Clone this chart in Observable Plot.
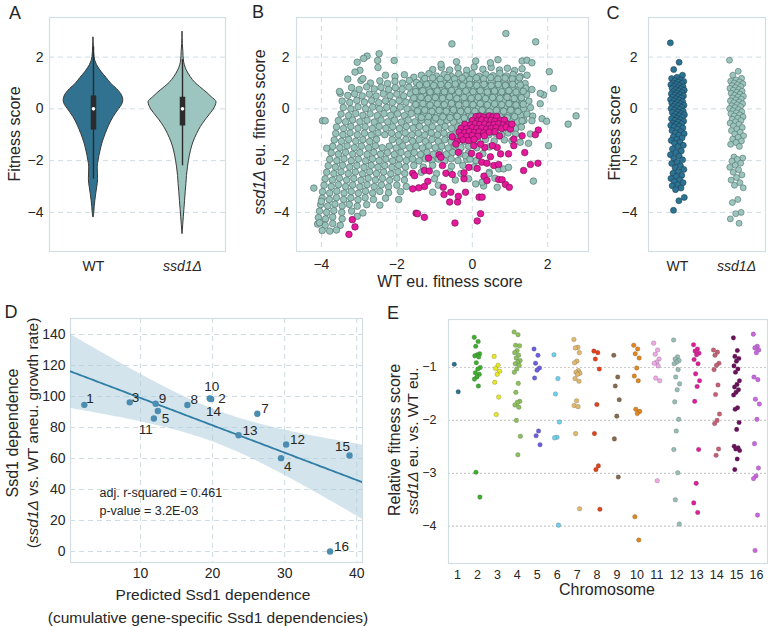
<!DOCTYPE html>
<html><head><meta charset="utf-8">
<script src="https://cdn.jsdelivr.net/npm/d3@7"></script>
<script src="https://cdn.jsdelivr.net/npm/@observablehq/plot@0.6"></script>
<style>
body{margin:0;background:#fff;font-family:"Liberation Sans",Arial,sans-serif;}
#fig{position:relative;width:768px;height:627px;overflow:hidden;background:#fff;}
.lbl{position:absolute;color:#262626;white-space:nowrap;line-height:1;}
</style></head><body><div id="fig"></div>
<script>
// ---------- Panel A: violin profiles (relative density) ----------
const wtLevels = [2.75, 2.4, 2.0, 1.7, 1.42, 1.2, 0.97, 0.75, 0.58, 0.32, 0.15, 0, -0.32, -0.65, -0.97, -1.3, -1.61, -2.0, -2.26, -2.5, -2.71, -2.9, -3.03, -3.3, -3.55, -3.8, -4.06, -4.2];
const wtDensity = [0, 0.01, 0.03, 0.1, 0.24, 0.38, 0.52, 0.7, 0.81, 0.876, 0.84, 0.76, 0.59, 0.46, 0.36, 0.27, 0.21, 0.15, 0.125, 0.13, 0.135, 0.125, 0.11, 0.08, 0.055, 0.035, 0.02, 0];
const ssdLevels = [2.97, 2.5, 2.2, 1.87, 1.5, 1.23, 1.0, 0.84, 0.6, 0.45, 0.26, 0.1, -0.06, -0.25, -0.45, -0.7, -0.97, -1.3, -1.61, -2.0, -2.26, -2.6, -2.9, -3.2, -3.55, -3.9, -4.19, -4.5, -4.84];
const ssdDensity = [0, 0.01, 0.025, 0.04, 0.12, 0.24, 0.38, 0.52, 0.74, 0.86, 1.0, 0.97, 0.9, 0.79, 0.67, 0.54, 0.43, 0.32, 0.25, 0.19, 0.16, 0.13, 0.115, 0.095, 0.076, 0.055, 0.038, 0.02, 0];
// box summary: [whisker low, q1, median, q3, whisker high]
const wtBox = [-2.71, -0.82, 0.0, 0.5, 2.4];
const ssdBox = [-2.2, -0.66, 0.0, 0.45, 1.9];
const groupNames = ["WT", "ssd1Δ"];

// ---------- Panel B: euploid fitness scores (WT x, ssd1Δ y) ----------
const grayPts = [
[-1.05,1.52],[-0.82,1.6],[-0.6,1.5],[-0.38,1.58],[-0.15,1.49],[0.05,1.62],[0.28,1.53],[0.5,1.6],[0.72,1.5],[0.93,1.57],[1.12,1.48],[1.32,1.55],
[-2.3,1.3],[-2.05,1.25],[-1.8,1.32],[-1.55,1.22],[-1.35,1.3],[-1.15,1.36],[-0.95,1.27],[-0.75,1.33],[-0.55,1.25],[-0.36,1.35],[-0.18,1.28],[0.0,1.36],[0.18,1.26],[0.36,1.33],[0.55,1.28],[0.73,1.37],[0.9,1.27],[1.08,1.33],[1.27,1.25],[1.45,1.3],
[-2.95,1.1],[-2.7,1.0],[-2.45,1.08],[-2.25,0.98],[-2.05,1.06],[-1.85,1.0],[-1.67,1.1],[-1.48,1.02],[-1.3,1.08],[-1.12,0.99],[-0.94,1.06],[-0.76,1.0],[-0.58,1.1],[-0.4,1.02],[-0.22,1.07],[-0.04,0.98],[0.14,1.08],[0.32,1.0],[0.5,1.06],[0.68,0.99],[0.86,1.08],[1.04,1.0],[1.22,1.06],[1.4,0.98],
[-3.2,0.82],[-3.0,0.75],[-2.8,0.85],[-2.6,0.77],[-2.42,0.83],[-2.22,0.75],[-2.04,0.82],[-1.86,0.76],[-1.68,0.84],[-1.5,0.77],[-1.33,0.83],[-1.15,0.75],[-0.98,0.82],[-0.8,0.76],[-0.63,0.84],[-0.46,0.76],[-0.29,0.82],[-0.12,0.75],[0.05,0.83],[0.22,0.77],[0.39,0.84],[0.56,0.76],[0.73,0.82],[0.9,0.75],[1.07,0.83],[1.24,0.77],[1.42,0.8],[1.58,0.75],
[-3.5,0.6],[-3.3,0.52],[-3.12,0.58],[-2.92,0.5],[-2.73,0.57],[-2.55,0.5],[-2.36,0.58],[-2.18,0.51],[-2.0,0.57],[-1.82,0.5],[-1.64,0.58],[-1.46,0.52],[-1.29,0.57],[-1.12,0.5],[-0.95,0.58],[-0.78,0.51],[-0.61,0.57],[-0.44,0.5],[-0.27,0.58],[-0.1,0.52],[0.07,0.57],[0.24,0.5],[0.41,0.58],[0.58,0.51],[0.75,0.57],[0.92,0.5],[1.09,0.58],[1.26,0.51],[1.44,0.56],
[-3.45,0.3],[-3.25,0.25],[-3.06,0.33],[-2.86,0.26],[-2.67,0.32],[-2.48,0.24],[-2.3,0.31],[-2.12,0.25],[-1.94,0.32],[-1.76,0.26],[-1.58,0.33],[-1.4,0.25],[-1.22,0.31],[-1.05,0.24],[-0.88,0.32],[-0.71,0.26],[-0.54,0.33],[-0.37,0.25],[-0.2,0.31],[-0.03,0.24],[0.14,0.32],[0.31,0.26],[0.48,0.33],[0.65,0.25],[0.82,0.31],[0.99,0.24],[1.16,0.32],[1.33,0.26],[1.5,0.3],
[-3.42,0.05],[-3.22,0.0],[-3.03,0.08],[-2.83,0.01],[-2.64,0.07],[-2.46,0.0],[-2.27,0.06],[-2.09,-0.01],[-1.91,0.07],[-1.73,0.0],[-1.55,0.06],[-1.37,-0.01],[-1.2,0.08],[-1.02,0.01],[-0.85,0.07],[-0.68,0.0],[-0.51,0.06],[-0.34,-0.01],[-0.17,0.07],[0.0,0.0],[0.17,0.06],[0.34,-0.01],[0.51,0.08],[0.68,0.01],[0.85,0.06],[1.02,0.0],[1.19,0.07],[1.36,0.01],[1.54,0.05],
[-3.48,-0.2],[-3.28,-0.26],[-3.09,-0.18],[-2.9,-0.25],[-2.71,-0.19],[-2.52,-0.26],[-2.34,-0.18],[-2.16,-0.25],[-1.98,-0.19],[-1.8,-0.26],[-1.62,-0.18],[-1.44,-0.24],[-1.27,-0.18],[-1.1,-0.26],[-0.93,-0.19],[-0.76,-0.25],[-0.59,-0.18],[-0.42,-0.26],[-0.25,-0.19],[-0.08,-0.25],[0.09,-0.18],[0.26,-0.24],[0.43,-0.17],[0.6,-0.25],[0.77,-0.19],[0.94,-0.26],[1.11,-0.18],[1.28,-0.24],[1.45,-0.2],[1.6,-0.28],
[-3.55,-0.45],[-3.36,-0.5],[-3.17,-0.43],[-2.98,-0.5],[-2.79,-0.44],[-2.6,-0.51],[-2.42,-0.43],[-2.24,-0.5],[-2.06,-0.44],[-1.88,-0.51],[-1.7,-0.43],[-1.52,-0.5],[-1.35,-0.44],[-1.18,-0.51],[-1.01,-0.43],[-0.84,-0.5],[-0.67,-0.44],[-0.5,-0.51],[-0.33,-0.43],[-0.16,-0.5],[0.01,-0.44],[0.18,-0.51],[0.35,-0.43],[0.52,-0.5],[0.69,-0.44],[0.86,-0.51],[1.03,-0.43],[1.2,-0.5],[1.37,-0.45],
[-3.6,-0.7],[-3.41,-0.76],[-3.22,-0.68],[-3.03,-0.75],[-2.84,-0.69],[-2.65,-0.76],[-2.47,-0.68],[-2.29,-0.75],[-2.11,-0.69],[-1.93,-0.76],[-1.75,-0.68],[-1.57,-0.74],[-1.4,-0.68],[-1.23,-0.76],[-1.06,-0.69],[-0.89,-0.75],[-0.72,-0.68],[-0.55,-0.76],[-0.38,-0.69],[-0.21,-0.75],[-0.04,-0.68],[0.13,-0.74],[0.3,-0.69],[0.47,-0.76],[0.64,-0.68],[0.81,-0.75],[0.98,-0.69],[1.15,-0.76],[1.3,-0.7],
[-3.62,-0.95],[-3.43,-1.0],[-3.24,-0.93],[-3.05,-1.0],[-2.86,-0.94],[-2.68,-1.01],[-2.5,-0.93],[-2.32,-1.0],[-2.14,-0.94],[-1.96,-1.01],[-1.78,-0.93],[-1.6,-1.0],[-1.43,-0.94],[-1.26,-1.01],[-1.09,-0.93],[-0.92,-1.0],[-0.75,-0.94],[-0.58,-1.01],[-0.41,-0.93],[-0.24,-1.0],[-0.07,-0.94],[0.1,-1.01],[0.27,-0.93],[0.44,-1.0],[0.61,-0.94],[0.78,-1.01],[0.95,-0.93],[1.15,-0.98],
[-3.66,-1.2],[-3.47,-1.25],[-3.28,-1.18],[-3.09,-1.25],[-2.9,-1.19],[-2.72,-1.26],[-2.54,-1.18],[-2.12,-1.19],[-1.94,-1.26],[-1.76,-1.18],[-1.58,-1.25],[-1.41,-1.19],[-1.24,-1.26],[-1.07,-1.18],[-0.9,-1.25],[-0.73,-1.19],[-0.56,-1.26],[-0.39,-1.18],[-0.22,-1.25],[-0.05,-1.19],[0.15,-1.26],[0.35,-1.18],[0.58,-1.24],[0.85,-1.2],
[-3.7,-1.45],[-3.51,-1.5],[-3.32,-1.43],[-3.13,-1.5],[-2.94,-1.44],[-2.75,-1.51],[-2.57,-1.43],[-2.39,-1.5],[-2.2,-1.44],[-2.02,-1.51],[-1.84,-1.43],[-1.66,-1.5],[-1.49,-1.44],[-1.32,-1.51],[-1.15,-1.43],[-0.98,-1.5],[-0.81,-1.44],[-0.64,-1.51],[-0.47,-1.43],[-0.3,-1.5],[-0.1,-1.44],[0.12,-1.5],[0.45,-1.47],
[-3.74,-1.7],[-3.55,-1.75],[-3.36,-1.68],[-3.17,-1.75],[-2.98,-1.69],[-2.79,-1.76],[-2.61,-1.68],[-2.43,-1.75],[-2.25,-1.69],[-2.07,-1.76],[-1.89,-1.68],[-1.71,-1.75],[-1.54,-1.69],[-1.37,-1.76],[-1.2,-1.68],[-1.03,-1.75],[-0.86,-1.69],[-0.69,-1.76],[-0.52,-1.68],[-0.32,-1.74],[-0.1,-1.7],[0.28,-1.73],
[-3.78,-1.95],[-3.59,-2.0],[-3.4,-1.93],[-3.21,-2.0],[-3.02,-1.94],[-2.83,-2.01],[-2.65,-1.93],[-2.47,-2.0],[-2.29,-1.94],[-2.11,-2.01],[-1.93,-1.93],[-1.75,-2.0],[-1.58,-1.94],[-1.41,-2.01],[-1.24,-1.93],[-1.07,-2.0],[-0.9,-1.94],[-0.73,-2.01],[-0.56,-1.93],[-0.38,-2.0],[-0.15,-1.95],[0.1,-2.0],
[-3.82,-2.2],[-3.63,-2.25],[-3.44,-2.18],[-3.25,-2.25],[-3.06,-2.19],[-2.87,-2.26],[-2.68,-2.18],[-2.5,-2.25],[-2.32,-2.19],[-2.13,-2.26],[-1.95,-2.18],[-1.77,-2.25],[-1.55,-2.19],[-1.3,-2.25],[-1.05,-2.18],[-0.55,-2.22],[-0.25,-2.18],[0.05,-2.24],
[-3.86,-2.45],[-3.67,-2.5],[-3.48,-2.43],[-3.29,-2.5],[-3.1,-2.44],[-2.91,-2.51],[-2.72,-2.43],[-2.54,-2.5],[-2.35,-2.44],[-2.16,-2.51],[-1.97,-2.43],[-1.79,-2.5],[-1.35,-2.45],[-0.95,-2.5],[-0.6,-2.43],[-0.3,-2.5],[0.45,-2.45],
[-3.9,-2.7],[-3.71,-2.75],[-3.52,-2.68],[-3.33,-2.75],[-3.14,-2.69],[-2.95,-2.76],[-2.76,-2.68],[-2.57,-2.75],[-2.38,-2.69],[-2.19,-2.76],[-2.0,-2.68],[-1.8,-2.75],[-1.0,-2.7],[-0.45,-2.75],[-0.1,-2.7],[0.6,-2.68],
[-3.93,-2.95],[-3.74,-3.0],[-3.55,-2.93],[-3.36,-3.0],[-3.17,-2.94],[-2.98,-3.01],[-2.79,-2.93],[-2.6,-3.0],[-2.41,-2.94],[-2.22,-3.01],[-2.0,-2.95],[-1.75,-3.0],[-0.9,-2.95],[0.3,-2.98],
[-3.97,-3.2],[-3.78,-3.25],[-3.59,-3.18],[-3.4,-3.25],[-3.21,-3.19],[-3.02,-3.26],[-2.83,-3.18],[-2.64,-3.25],[-2.45,-3.19],[-2.22,-3.24],[-1.9,-3.2],[-1.05,-3.22],
[-3.98,-3.45],[-3.79,-3.5],[-3.6,-3.43],[-3.41,-3.5],[-3.22,-3.44],[-3.03,-3.51],[-2.84,-3.43],[-2.62,-3.5],[-2.3,-3.45],[-1.95,-3.5],
[-4.02,-3.7],[-3.83,-3.75],[-3.64,-3.68],[-3.45,-3.75],[-3.26,-3.69],[-3.05,-3.76],[-2.8,-3.7],[-2.45,-3.72],
[-4.05,-3.95],[-3.86,-4.0],[-3.67,-3.93],[-3.46,-4.0],[-3.2,-3.95],[-2.9,-4.02],
[-4.08,-4.2],[-3.89,-4.25],[-3.7,-4.18],[-3.45,-4.25],[-3.05,-4.15],
[-4.1,-4.45],[-3.9,-4.5],[-3.7,-4.43],[-3.5,-4.5],
[-3.98,-4.7],[-3.78,-4.72],[-3.6,-4.68],
[-1.26,1.17],[-1.05,1.2],[-0.85,1.15],[-0.66,1.21],[-0.47,1.16],[-0.27,1.19],[-0.07,1.14],[0.11,1.2],[0.3,1.16],[0.49,1.21],[0.68,1.15],[0.87,1.19],[1.06,1.16],[1.25,1.2],
[-1.4,0.92],[-1.21,0.95],[-1.02,0.9],[-0.83,0.94],[-0.64,0.91],[-0.45,0.96],[-0.26,0.9],[-0.07,0.94],[0.12,0.91],[0.31,0.95],[0.5,0.9],[0.69,0.94],[0.88,0.91],[1.07,0.95],[1.27,0.92],
[-1.5,0.67],[-1.31,0.7],[-1.12,0.65],[-0.93,0.69],[-0.74,0.66],[-0.55,0.71],[-0.36,0.65],[-0.17,0.69],[0.02,0.66],[0.21,0.7],[0.4,0.65],[0.59,0.69],[0.78,0.66],[0.97,0.7],[1.16,0.65],[1.35,0.68],
[-1.55,0.42],[-1.36,0.45],[-1.17,0.4],[-0.98,0.44],[-0.79,0.41],[-0.6,0.46],[-0.41,0.4],[-0.22,0.44],[-0.03,0.41],[0.16,0.45],[0.35,0.4],[0.54,0.44],[0.73,0.41],[0.92,0.45],[1.11,0.4],[1.3,0.43],
[-1.5,0.17],[-1.31,0.2],[-1.12,0.15],[-0.93,0.19],[-0.74,0.16],[-0.55,0.21],[-0.36,0.15],[-0.17,0.19],[0.02,0.16],[0.21,0.2],[0.4,0.15],[0.59,0.19],[0.78,0.16],[0.97,0.2],[1.16,0.15],[1.35,0.18],
[-1.45,-0.08],[-1.26,-0.05],[-1.07,-0.1],[-0.88,-0.06],[-0.69,-0.09],[-0.5,-0.04],[-0.31,-0.1],[-0.12,-0.06],[0.07,-0.09],[0.26,-0.05],[0.45,-0.1],[0.64,-0.06],[0.83,-0.09],[1.02,-0.05],[1.21,-0.1],
[-1.35,-0.33],[-1.16,-0.3],[-0.97,-0.35],[-0.78,-0.31],[-0.59,-0.34],[-0.4,-0.29],[-0.21,-0.35],[-0.02,-0.31],[0.17,-0.34],[0.36,-0.3],[0.55,-0.35],[0.74,-0.31],[0.93,-0.34],[1.12,-0.3],
[-0.54,2.51],[0.89,2.91],[1.68,2.59],[2.75,-0.27],[2.54,-0.59],[2.02,-1.42],[1.62,-2.79],[2.15,0.79],[2.04,1.44],[1.89,0.54],[1.85,-0.38],[1.97,-0.48],[1.8,0.6],[1.8,0.2],
[-0.83,1.72],[-0.42,1.82],[0.09,1.85],[0.48,1.78],[0.68,1.9],[1.32,1.85],[1.45,1.88],[1.58,1.78],
[-2.47,2.13],[-2.79,2.04],[-2.88,1.95],[-2.51,1.87],[-3.05,1.8],[-2.07,1.87],[-2.5,1.6],[-2.98,1.49],[-3.11,1.42],[-2.9,1.17],[-3.3,1.15],[-3.52,0.67],
[-3.97,-0.46],[-3.9,-0.46],[-3.86,-1.52],[-4.2,-3.06],[-4.0,-3.57],[-4.05,-4.4],
[-0.18,-1.81],[-0.06,-1.94],[0.44,-2.51],[0.7,-2.32],[0.83,-2.32],[0.26,-2.83],[0.09,-2.9],[0.66,-3.03],[1.27,-1.29],[1.49,-1.33],[1.54,-0.97],[1.05,-1.23],[0.96,-2.26],[1.32,-0.46],[1.58,-0.46]
];
const magentaPts = [
[0.1,-0.3],[0.2,-0.28],[0.3,-0.32],[0.45,-0.27],[0.55,-0.31],[0.65,-0.29],
[0.0,-0.45],[0.15,-0.47],[0.25,-0.43],[0.38,-0.46],[0.5,-0.44],[0.6,-0.48],[0.75,-0.45],[0.85,-0.43],
[-0.2,-0.6],[-0.05,-0.62],[0.08,-0.58],[0.2,-0.61],[0.33,-0.59],[0.45,-0.63],[0.58,-0.6],[0.7,-0.58],[0.82,-0.62],[0.95,-0.6],
[-0.3,-0.75],[-0.15,-0.77],[0.0,-0.73],[0.12,-0.76],[0.25,-0.74],[0.38,-0.78],[0.5,-0.75],[0.63,-0.73],[0.78,-0.76],
[-0.35,-0.9],[-0.2,-0.92],[-0.08,-0.88],[0.05,-0.91],[0.18,-0.89],[0.3,-0.93],[0.45,-0.9],[0.6,-0.88],
[-0.3,-1.05],[-0.15,-1.07],[0.0,-1.03],[0.15,-1.06],[0.32,-1.04],
[-0.25,-1.2],[-0.1,-1.22],[0.05,-1.18],[-0.4,-1.25],[0.9,-0.7],[0.72,-1.05],
[-3.18,-4.28],[-3.11,-4.56],[-3.27,-4.85],[-1.58,-2.49],[-1.53,-2.58],[-1.27,-2.38],[-1.14,-2.4],[-1.18,-2.8],[-1.27,-3.0],[-1.42,-3.05],[-1.58,-3.09],
[-0.88,-1.77],[-0.83,-1.87],[-1.16,-1.9],[-1.49,-4.03],[-1.45,-4.05],[-1.27,-4.19],
[-0.53,-1.08],[-0.44,-1.36],[-0.37,-1.68],[-0.79,-2.19],[-0.7,-2.49],[-0.53,-2.54],[-0.77,-3.03],[-0.75,-3.31],[-0.57,-3.22],[-0.6,-3.6],[-0.39,-3.6],[-0.37,-3.38],
[-0.18,-3.22],[-0.22,-2.7],[-0.22,-2.47],[-0.09,-2.26],[0.13,-2.3],[0.25,-2.06],[0.39,-2.1],[0.48,-1.85],[0.57,-2.19],[0.7,-2.15],[0.75,-1.74],[0.66,-1.49],
[0.53,-1.42],[0.33,-1.49],[0.18,-1.81],[-0.02,-1.72],[0.04,-1.42],[0.22,-1.36],[0.31,-2.6],[0.39,-2.77],[0.7,-2.73],[0.79,-2.74],[0.88,-2.92],[0.98,-3.03],
[0.96,-1.74],[1.1,-1.42],[1.1,-1.17],[1.01,-0.78],[1.05,-0.59],[1.32,-1.04],[1.39,-1.69],[1.54,-2.15],[1.74,-2.1],[1.75,-0.82],[1.67,-1.0],[1.36,-2.38],
[0.18,-3.41],[0.26,-3.41],[0.22,-4.05],[0.13,-4.33],[-0.46,-4.41]
];

// ---------- Panel C: aneuploid fitness scores ----------
const wtAneu = [2.55,1.8,1.52,1.3,1.22,1.17,1.12,1.09,1.06,1.03,1.0,0.98,0.95,0.93,0.9,0.87,0.85,0.82,0.79,0.77,0.74,0.72,0.69,0.66,0.63,0.61,0.58,0.55,0.53,0.5,0.47,0.45,0.42,0.39,0.36,0.34,0.31,0.28,0.25,0.22,0.2,0.17,0.14,0.12,0.09,0.06,0.03,0.01,
-0.02,-0.05,-0.09,-0.12,-0.14,-0.18,-0.21,-0.23,-0.27,-0.3,-0.33,-0.36,-0.38,-0.42,-0.45,-0.48,-0.51,-0.55,-0.57,-0.6,-0.64,-0.67,-0.7,
-0.74,-0.78,-0.84,-0.88,-0.93,-0.96,-1.02,-1.08,-1.12,-1.18,-1.22,-1.29,-1.33,-1.41,-1.46,
-1.55,-1.63,-1.69,-1.77,-1.82,-1.91,-1.97,-2.06,-2.11,-2.2,-2.27,
-2.34,-2.43,-2.49,-2.57,-2.61,-2.69,-2.74,-2.81,-2.85,-2.93,-2.97,-3.06,-3.12,
-3.42,-3.55,-3.92];
const ssdAneu = [1.88,1.45,1.3,1.18,1.12,1.07,1.04,1.0,0.97,0.93,0.9,0.86,0.82,0.79,0.75,0.72,0.68,0.64,0.6,0.57,0.53,0.49,0.46,0.42,0.38,0.35,0.31,0.27,0.24,0.2,0.16,0.12,0.09,0.05,0.01,
-0.03,-0.07,-0.11,-0.15,-0.19,-0.23,-0.27,-0.31,-0.36,-0.4,-0.45,-0.5,-0.55,-0.6,-0.66,-0.72,-0.78,-0.84,-0.9,-0.97,-1.04,-1.1,-1.17,-1.24,-1.3,-1.37,-1.45,
-1.86,-1.9,-1.95,-2.02,-2.1,-2.18,-2.26,-2.35,-2.45,-2.55,-2.65,-2.75,-2.85,-2.95,-3.05,
-3.5,-3.62,-4.0,-4.05,-4.25,-4.42];

// ---------- Panel D: per-chromosome Ssd1 dependence ----------
const dChrom = ["1","2","3","4","5","7","8","9","10","11","12","13","14","15","16"];
const dPredicted = [2.2, 19.8, 8.5, 29.5, 12.4, 26.2, 16.5, 12.1, 19.6, 11.85, 30.2, 23.6, 19.7, 39.0, 36.3];
const dObserved = [94.6, 98.3, 96.2, 60.2, 90.6, 88.9, 94.5, 95.3, 98.8, 85.8, 69.0, 75.0, 98.5, 61.9, 0.0];
const dStats = ["adj. r-squared = 0.461", "p-value = 3.2E-03"];

// ---------- Panel E: relative fitness per chromosome ----------
const chromosomes = d3.range(1, 17);
const chrFitness = [
[-0.94,-1.46],
[-0.43,-0.51,-0.6,-0.74,-0.76,-0.78,-0.8,-0.91,-1.0,-1.03,-1.1,-1.13,-1.18,-1.22,-1.35,-2.98,-3.45],
[-0.79,-0.96,-1.02,-1.07,-1.13,-1.28,-1.56,-1.89],
[-0.33,-0.38,-0.58,-0.59,-0.68,-0.72,-0.77,-0.82,-0.87,-0.9,-0.93,-0.96,-1.03,-1.09,-1.3,-1.47,-1.64,-1.66,-1.71,-1.75,-2.0,-2.3,-2.65],
[-0.65,-0.77,-0.92,-1.01,-1.05,-1.2,-2.2,-2.29,-2.46],
[-0.76,-1.21,-1.5,-2.03,-2.32,-2.33,-3.98],
[-0.47,-0.62,-0.63,-0.72,-0.88,-0.91,-1.06,-1.09,-1.11,-1.13,-1.21,-1.26,-1.63,-1.72,-1.74,-2.25,-3.67],
[-0.69,-0.72,-0.84,-1.03,-1.7,-2.25,-2.86,-2.93,-3.68],
[-0.77,-1.18,-1.35,-1.61,-1.92,-2.35,-3.07],
[-0.58,-0.65,-0.74,-0.82,-1.01,-1.16,-1.25,-1.79,-1.83,-1.87,-3.82,-4.26],
[-0.54,-0.67,-0.75,-0.84,-0.9,-0.92,-0.97,-1.2,-1.25,-3.14],
[-0.48,-0.8,-0.84,-0.87,-0.9,-0.93,-1.04,-1.18,-1.31,-1.42,-1.65,-1.98,-2.2,-2.55,-2.99,-3.5,-3.96],
[-0.57,-0.65,-0.69,-0.73,-0.76,-0.85,-0.93,-1.12,-1.25,-1.36,-1.64,-2.55,-3.19,-3.56,-3.74],
[-0.67,-0.71,-0.77,-0.92,-0.96,-1.04,-1.33,-1.51,-1.88,-2.0,-2.06,-2.54,-2.66],
[-0.44,-0.68,-0.79,-0.83,-0.88,-0.97,-1.03,-1.09,-1.25,-1.32,-1.37,-1.42,-1.47,-1.52,-1.76,-1.79,-2.04,-2.17,-2.49,-2.52,-2.54,-2.57,-2.73,-2.93],
[-0.37,-0.6,-0.63,-0.67,-0.72,-1.18,-1.23,-1.6,-1.69,-1.98,-2.44,-2.9,-3.05,-3.1,-3.79,-4.46]
];
const chrColors = ["#2a6f8e","#3caf2b","#e6e622","#8cc05c","#6a5ee0","#6fd0ec","#e2b86c","#e0421a","#86694e","#e0861c","#eea8e6","#95bdb5","#e01c98","#c65f74","#6b0f5c","#c966e0"];

// ================= drawing =================
const fig = document.getElementById("fig");
const FONT = '"Liberation Sans", Arial, Helvetica, sans-serif';
const GRID = "#cfdce1", FRAME = "#d3dee2", TEXT = "#262626";
const minus = v => (v < 0 ? "\u2212" : "") + Math.abs(v);
const jit = i => ((i * 0.6180339887) % 1) - 0.5;

function place(svg, left, top) {
  svg.style.position = "absolute"; svg.style.left = left + "px"; svg.style.top = top + "px";
  svg.querySelectorAll("text").forEach(t => { if (/^ssd1/.test(t.textContent)) t.style.fontStyle = "italic"; });
  fig.appendChild(svg);
}
function label(html, x, y, size, rot) {
  const d = document.createElement("div");
  d.className = "lbl"; d.innerHTML = html;
  d.style.left = x + "px"; d.style.top = y + "px"; d.style.fontSize = size + "px";
  d.style.transform = "translate(-50%,-50%)" + (rot ? " rotate(-90deg)" : "");
  fig.appendChild(d);
}
const baseStyle = size => ({fontFamily: FONT, fontSize: size + "px", color: TEXT, background: "transparent", overflow: "visible"});
const yFit = {domain: [-5.51, 3.53], ticks: [-4, -2, 0, 2], tickSize: 0, tickFormat: minus, label: null};

// ---- A ----
const HW = 0.382;
const wtV = wtLevels.map((y, i) => ({y, w: wtDensity[i]}));
const ssdV = ssdLevels.map((y, i) => ({y, w: ssdDensity[i]}));
const boxes = [wtBox, ssdBox].map((b, i) => ({g: i, lo: b[0], q1: b[1], med: b[2], q3: b[3], hi: b[4]}));
place(Plot.plot({
  width: 230, height: 281, marginLeft: 49, marginRight: 5, marginTop: 17, marginBottom: 30,
  style: baseStyle(14),
  x: {domain: [-0.494, 1.483], ticks: [0, 1], tickSize: 0, tickPadding: 10, tickFormat: i => groupNames[i], label: null},
  y: {...yFit, tickPadding: 6},
  marks: [
    Plot.gridY([-4, -2, 0, 2], {stroke: GRID, strokeOpacity: 1, strokeDasharray: "5,4"}),
    Plot.frame({stroke: FRAME, strokeWidth: 1.2}),
    Plot.areaX(wtV, {y: "y", x1: d => -d.w * HW, x2: d => d.w * HW, fill: "#30728f", stroke: "#3a3a3a", strokeWidth: 1, curve: "monotone-y"}),
    Plot.areaX(ssdV, {y: "y", x1: d => 1 - d.w * HW, x2: d => 1 + d.w * HW, fill: "#9cc5bf", stroke: "#3a3a3a", strokeWidth: 1, curve: "monotone-y"}),
    Plot.ruleX(boxes, {x: "g", y1: "lo", y2: "hi", stroke: "#2b2b2b", strokeWidth: 1.4}),
    Plot.ruleX(boxes, {x: "g", y1: "q1", y2: "q3", stroke: "#2b2b2b", strokeWidth: 5.5}),
    Plot.dot(boxes, {x: "g", y: "med", r: 1.8, fill: "white"})
  ]
}), 0, 0);

// ---- B ----
place(Plot.plot({
  width: 368, height: 300, marginLeft: 64, marginRight: 12, marginTop: 17, marginBottom: 49,
  style: baseStyle(14),
  x: {domain: [-4.66, 3.08], ticks: [-4, -2, 0, 2], tickSize: 0, tickPadding: 8, tickFormat: minus, label: null},
  y: {...yFit, tickPadding: 7},
  marks: [
    Plot.gridY([-4, -2, 0, 2], {stroke: GRID, strokeOpacity: 1, strokeDasharray: "5,4"}),
    Plot.gridX([-4, -2, 0, 2], {stroke: GRID, strokeOpacity: 1, strokeDasharray: "5,4"}),
    Plot.frame({stroke: FRAME, strokeWidth: 1.2}),
    Plot.dot(grayPts, {x: d => d[0], y: d => d[1], r: 3.3, fill: "#97c2ba", stroke: "#4e6d67", strokeWidth: 0.65}),
    Plot.dot(magentaPts, {x: d => d[0], y: d => d[1], r: 3.3, fill: "#e4199b", stroke: "#6e1048", strokeWidth: 0.6})
  ]
}), 232, 0);

// ---- C ----
const cPts = [...wtAneu.map((v, i) => ({g: 0, v, i})), ...ssdAneu.map((v, i) => ({g: 1, v, i}))];
place(Plot.plot({
  width: 168, height: 300, marginLeft: 48, marginRight: 3, marginTop: 17, marginBottom: 49,
  style: baseStyle(14),
  x: {domain: [-0.49, 1.49], ticks: [0, 1], tickSize: 0, tickPadding: 10, tickFormat: i => groupNames[i], label: null},
  y: {...yFit, tickPadding: 11},
  marks: [
    Plot.gridY([-4, -2, 0, 2], {stroke: GRID, strokeOpacity: 1, strokeDasharray: "5,4"}),
    Plot.frame({stroke: FRAME, strokeWidth: 1.2}),
    Plot.dot(cPts.filter(d => d.g === 0), {x: d => d.g + jit(d.i) * 0.24, y: "v", r: 3, fill: "#2d7394", stroke: "#1b3f52", strokeWidth: 0.6}),
    Plot.dot(cPts.filter(d => d.g === 1), {x: d => d.g + jit(d.i) * 0.24, y: "v", r: 3, fill: "#9cc5bf", stroke: "#52726c", strokeWidth: 0.6})
  ]
}), 600, 0);

// ---- D ----
const dPts = dChrom.map((c, i) => ({c, x: dPredicted[i], y: dObserved[i]}));
const dXdom = [0.28, 40.8];
const mx = d3.mean(dPredicted), my = d3.mean(dObserved);
const sxx = d3.sum(dPredicted, x => (x - mx) ** 2);
const sxy = d3.sum(dPredicted.map((x, i) => (x - mx) * (dObserved[i] - my)));
const slope = sxy / sxx, icpt = my - slope * mx;
const nD = dPredicted.length;
const sRes = Math.sqrt(d3.sum(dPredicted.map((x, i) => (dObserved[i] - icpt - slope * x) ** 2)) / (nD - 2));
const tCrit = 2.160; // t(0.975, df = 13)
const fitGrid = d3.range(0, 121).map(k => dXdom[0] + (dXdom[1] - dXdom[0]) * k / 120).map(x => {
  const yh = icpt + slope * x, se = sRes * Math.sqrt(1 / nD + (x - mx) ** 2 / sxx);
  return {x, yh, lo: yh - tCrit * se, hi: yh + tCrit * se};
});
const place15 = {"1":["start",2,-6],"2":["start",7,0],"3":["start",2,-5],"4":["start",3,8],"5":["start",4,8],"7":["start",4,-5],"8":["start",3,-5],"9":["start",3,-5],"10":["middle",2,-12],"11":["end",-1,11],"12":["start",4,-5],"13":["start",4,-5],"14":["middle",3,13],"15":["middle",-7,-9],"16":["start",4,-5]};
place(Plot.plot({
  width: 370, height: 282, marginLeft: 70, marginRight: 8, marginTop: 18, marginBottom: 20,
  style: baseStyle(14),
  x: {domain: dXdom, ticks: [10, 20, 30, 40], tickSize: 0, tickPadding: 6, label: null},
  y: {domain: [-7.1, 150.3], ticks: d3.range(0, 141, 20), tickSize: 0, tickPadding: 5, label: null},
  marks: [
    Plot.gridY(d3.range(0, 141, 20), {stroke: GRID, strokeOpacity: 1, strokeDasharray: "5,4"}),
    Plot.gridX([10, 20, 30, 40], {stroke: GRID, strokeOpacity: 1, strokeDasharray: "5,4"}),
    Plot.frame({stroke: FRAME, strokeWidth: 1.2}),
    Plot.areaY(fitGrid, {x: "x", y1: "lo", y2: "hi", fill: "#a9c9dc", fillOpacity: 0.5, clip: true}),
    Plot.line(fitGrid, {x: "x", y: "yh", stroke: "#2f7ea6", strokeWidth: 1.8, clip: true}),
    Plot.dot(dPts, {x: "x", y: "y", r: 3.2, fill: "#4b8db1"}),
    ...dPts.map(p => Plot.text([p], {x: "x", y: "y", text: "c", textAnchor: place15[p.c][0], dx: place15[p.c][1], dy: place15[p.c][2], fontSize: 13.5, fill: TEXT})),
    Plot.text([dStats[0]], {frameAnchor: "bottom-left", text: d => d, dx: 29, dy: -70, lineAnchor: "middle", fontSize: 12.5, fill: TEXT}),
    Plot.text([dStats[1]], {frameAnchor: "bottom-left", text: d => d, dx: 29, dy: -52, lineAnchor: "middle", fontSize: 12.5, fill: TEXT})
  ]
}), 0, 300);

// ---- E ----
const ePts = chrFitness.flatMap((vals, ci) => vals.map((v, i) => ({chr: chromosomes[ci], v, i})));
place(Plot.plot({
  width: 388, height: 282, marginLeft: 68, marginRight: 1, marginTop: 19, marginBottom: 19,
  style: baseStyle(12.5),
  x: {domain: [0.55, 16.55], ticks: chromosomes, tickSize: 0, tickPadding: 7, label: null},
  y: {domain: [-4.705, -0.093], ticks: [-4, -3, -2, -1], tickSize: 0, tickPadding: 12, tickFormat: minus, label: null},
  color: {domain: chromosomes, range: chrColors},
  marks: [
    Plot.gridY([-4, -3, -2, -1], {stroke: "#c9c9c9", strokeOpacity: 1, strokeDasharray: "2,2", strokeWidth: 1.2}),
    Plot.frame({stroke: FRAME, strokeWidth: 1.2}),
    Plot.dot(ePts, {x: d => d.chr + jit(d.i) * 0.32, y: "v", r: 2.3, fill: "chr", stroke: "#4a4a4a", strokeWidth: 0.4, strokeOpacity: 0.6})
  ]
}), 380, 300);

// ---- labels ----
label("A", 15, 13, 18); label("B", 258, 12, 18); label("C", 613, 13, 18); label("D", 11, 312, 18); label("E", 393, 313, 18);
label("Fitness score", 15, 134, 16, true);
label("<i>ssd1Δ</i> eu. fitness score", 260, 132, 16, true);
label("WT eu. fitness score", 450, 282, 16);
label("Fitness score", 615, 133, 16, true);
label("Ssd1 dependence", 13, 433, 16, true);
label("(<i>ssd1Δ</i> vs. WT aneu. growth rate)", 33, 433, 15.5, true);
label("Predicted Ssd1 dependence", 213, 595, 15.5);
label("(cumulative gene-specific Ssd1 dependencies)", 208, 618, 15.5);
label("Relative fitness score", 395, 440, 16, true);
label("<i>ssd1Δ</i> eu. vs. WT eu.", 413, 441, 15.5, true);
label("Chromosome", 607, 590, 16);
</script></body></html>
